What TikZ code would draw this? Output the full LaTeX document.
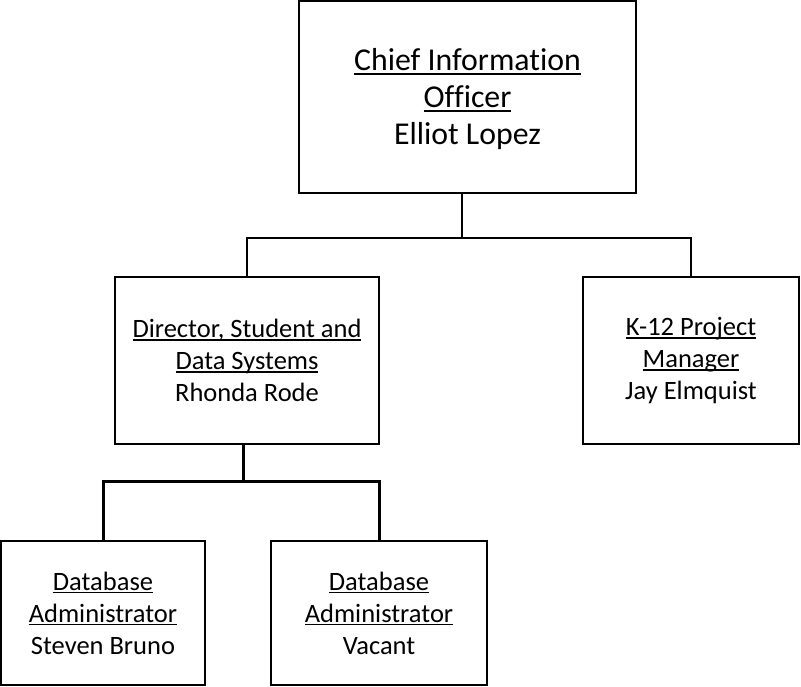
\documentclass[tikz,border=0pt]{standalone}
\usepackage{fontspec}
\setmainfont{Carlito}[Ligatures={NoCommon,NoContextual}]
\newcommand\ulin[1]{\setbox0\hbox{#1}\rlap{\rule[-0.12em]{\wd0}{0.055em}}\box0}
\tikzset{
  orgbox/.style={draw=black, line width=2pt, inner sep=0pt, align=center,
    font=\fontsize{26.5}{32}\selectfont},
  bigtext/.style={font=\fontsize{31.8}{37}\selectfont},
  thinlink/.style={line width=1.4pt, draw=black},
  thicklink/.style={line width=3pt, draw=black}
}
\begin{document}
\begin{tikzpicture}[x=1pt,y=-1pt]
\useasboundingbox (0,0) rectangle (801,686);
\node[orgbox, bigtext, minimum width=337pt, minimum height=192pt] (cio) at (467.5,97)
  {\rule{0pt}{27pt}\ulin{Chief Information}\\\ulin{Officer}\\Elliot Lopez};
\node[orgbox, minimum width=264pt, minimum height=167pt] (dir) at (247,360.5)
  {\ulin{Director, Student and}\\\ulin{Data Systems}\\Rhonda Rode};
\node[orgbox, minimum width=216pt, minimum height=167pt] (kpm) at (691,360.5)
  {\ulin{K-12 Project}\\\ulin{Manager}\\Jay Elmquist};
\node[orgbox, minimum width=204pt, minimum height=144pt] (dba) at (103,613)
  {\ulin{Database}\\\ulin{Administrator}\\Steven Bruno};
\node[orgbox, minimum width=216pt, minimum height=144pt] (dbb) at (379,613)
  {\ulin{Database}\\\ulin{Administrator}\\Vacant};
\coordinate (j1) at (462,238);
\coordinate (j2) at (243,481);
\draw[thinlink] (cio.south -| j1) -- (j1);
\draw[thinlink] (dir.north) -- (dir.north |- j1) -- (kpm.north |- j1) -- (kpm.north);
\draw[thicklink] (dir.south -| j2) -- (j2);
\draw[thicklink] (dba.north) -- (dba.north |- j2) -- (dbb.north |- j2) -- (dbb.north);
\end{tikzpicture}
\end{document}
